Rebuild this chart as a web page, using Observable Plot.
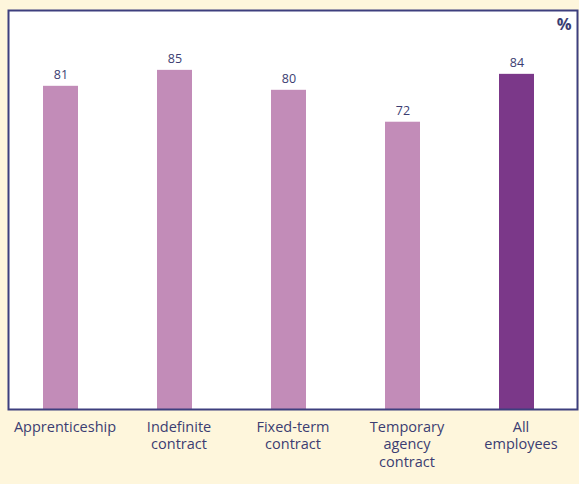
<!DOCTYPE html>
<html>
<head>
<meta charset="utf-8">
<script src="https://cdn.jsdelivr.net/npm/d3@7"></script>
<script src="https://cdn.jsdelivr.net/npm/@observablehq/plot@0.6"></script>
<style>
  html, body { margin: 0; padding: 0; background: #fef6dc; }
  #chart { width: 579px; height: 484px; }
  svg { display: block; }
</style>
</head>
<body>
<div id="chart"></div>
<script>
const categories = ["Apprenticeship", "Indefinite contract", "Fixed-term contract", "Temporary agency contract", "All employees"];
const tickLabels = ["Apprenticeship", "Indefinite\ncontract", "Fixed-term\ncontract", "Temporary\nagency\ncontract", "All\nemployees"];
const values = [81, 85, 80, 72, 84];
const isTotal = [false, false, false, false, true];

const data = categories.map((c, i) => ({category: c, value: values[i], total: isTotal[i]}));
const labelOf = new Map(categories.map((c, i) => [c, tickLabels[i]]));

const textColor = "#3b3d72";
const font = "'Open Sans', sans-serif";

const chart = Plot.plot({
  width: 579,
  height: 484,
  marginLeft: 8,
  marginRight: 2,
  marginTop: 10,
  marginBottom: 75,
  style: {background: "transparent", fontFamily: font},
  x: {domain: categories, range: [2.375, 573.625], paddingInner: 0.694, paddingOuter: 0.347, axis: null},
  y: {domain: [0, 100], axis: null},
  marks: [
    Plot.frame({fill: "white", stroke: null}),
    Plot.barY(data, {x: "category", y: "value", fill: d => d.total ? "#7b3889" : "#c28cb8"}),
    Plot.text(data, {x: "category", y: "value", text: d => String(d.value), lineAnchor: "bottom", dy: -7, fontSize: 12.5, fill: textColor}),
    Plot.frame({stroke: "#3d3f7e", strokeWidth: 2}),
    Plot.axisX({tickSize: 0, tickPadding: 10, dx: 4, fontSize: 14.5, lineHeight: 1.2, fill: textColor, label: null, tickFormat: d => labelOf.get(d)}),
    Plot.text(["%"], {frameAnchor: "top-right", dx: -6, dy: 8, fontSize: 16.5, fontWeight: "bold", fill: textColor, textAnchor: "end"})
  ]
});
document.getElementById("chart").appendChild(chart);
</script>
</body>
</html>
